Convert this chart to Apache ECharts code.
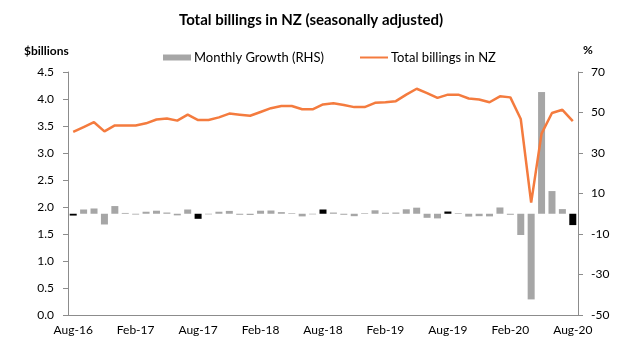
<!DOCTYPE html>
<html>
<head>
<meta charset="utf-8">
<style>
  html, body { margin: 0; padding: 0; background: #fff; }
  #chart { width: 622px; height: 353px; }
</style>
<script src="https://cdn.jsdelivr.net/npm/echarts@6/dist/echarts.min.js"></script>
</head>
<body>
<div id="chart"></div>
<script>
// Monthly, Aug-16 .. Aug-20
const months = [
  'Aug-16', 'Sep-16', 'Oct-16', 'Nov-16', 'Dec-16', 'Jan-17',
  'Feb-17', 'Mar-17', 'Apr-17', 'May-17', 'Jun-17', 'Jul-17',
  'Aug-17', 'Sep-17', 'Oct-17', 'Nov-17', 'Dec-17', 'Jan-18',
  'Feb-18', 'Mar-18', 'Apr-18', 'May-18', 'Jun-18', 'Jul-18',
  'Aug-18', 'Sep-18', 'Oct-18', 'Nov-18', 'Dec-18', 'Jan-19',
  'Feb-19', 'Mar-19', 'Apr-19', 'May-19', 'Jun-19', 'Jul-19',
  'Aug-19', 'Sep-19', 'Oct-19', 'Nov-19', 'Dec-19', 'Jan-20',
  'Feb-20', 'Mar-20', 'Apr-20', 'May-20', 'Jun-20', 'Jul-20',
  'Aug-20',
];

// $billions
const totalBillings = [
  3.39, 3.48, 3.57, 3.40, 3.51, 3.51, 3.51, 3.55, 3.62, 3.64, 3.60, 3.71,
  3.61, 3.61, 3.66, 3.73, 3.71, 3.69, 3.76, 3.83, 3.87, 3.87, 3.81, 3.81,
  3.90, 3.92, 3.89, 3.85, 3.85, 3.93, 3.94, 3.96, 4.08, 4.19, 4.11, 4.02,
  4.08, 4.08, 4.01, 3.99, 3.94, 4.05, 4.03, 3.63, 2.08, 3.36, 3.74, 3.80,
  3.59,
];

// % (RHS)
const monthlyGrowth = [
  -0.9, 2.1, 2.6, -5.3, 3.8, 0.4, -0.4, 1.0, 1.5, 0.6, -0.8, 2.1,
  -2.5, -0.3, 1.0, 1.4, -0.5, -0.6, 1.5, 1.6, 0.8, 0.3, -1.3, -0.3,
  2.1, 0.6, -0.5, -1.2, 0.3, 1.7, 0.5, 0.6, 2.2, 3.0, -2.0, -2.3,
  1.1, 0.3, -1.4, -1.2, -1.3, 3.1, -0.5, -10.5, -42.3, 60.1, 11.2, 2.3,
  -5.6,
];

const leftTicks = { min: 0, max: 4.5, interval: 0.5 };
const rightTicks = { min: -50, max: 70, interval: 20 };

const font = 'Lato, "Open Sans", sans-serif';
const axisGrey = '#8c8c8c';
const barGrey = '#a6a6a6';
const lineOrange = '#f47b3e';
const textColor = '#000';

const chart = echarts.init(document.getElementById('chart'));

chart.setOption({
  animation: false,
  backgroundColor: '#fff',
  textStyle: { fontFamily: font },
  title: {
    text: 'Total billings in NZ (seasonally adjusted)',
    left: 'center',
    top: 8,
    textStyle: { fontSize: 15, fontWeight: 'bold', color: textColor, fontFamily: font },
  },
  graphic: [
    {
      type: 'text',
      left: 24,
      top: 45,
      style: { text: '$billions', fontSize: 12, fontWeight: 'bold', fill: textColor, fontFamily: font },
    },
    {
      type: 'text',
      left: 583,
      top: 44,
      style: { text: '%', fontSize: 12, fontWeight: 'bold', fill: textColor, fontFamily: font },
    },
  ],
  legend: [
    {
      left: 158,
      top: 46,
      itemWidth: 28,
      itemHeight: 6,
      textStyle: { fontSize: 13, color: textColor, fontFamily: font, padding: [0, 0, 0, -2] },
      data: [{ name: 'Monthly Growth (RHS)', icon: 'rect', itemStyle: { color: barGrey } }],
    },
    {
      left: 355,
      top: 46,
      itemWidth: 28,
      itemHeight: 2,
      textStyle: { fontSize: 13, color: textColor, fontFamily: font, padding: [0, 0, 0, -2] },
      data: [{ name: 'Total billings in NZ', icon: 'rect', itemStyle: { color: lineOrange } }],
    },
  ],
  grid: { left: 68, right: 44, top: 72, bottom: 38 },
  xAxis: {
    type: 'category',
    data: months,
    boundaryGap: true,
    axisLine: { onZero: false, lineStyle: { color: axisGrey } },
    axisTick: { interval: 2, length: 4, lineStyle: { color: axisGrey } },
    axisLabel: { interval: 5, fontSize: 12, color: textColor, margin: 9 },
  },
  yAxis: [
    {
      type: 'value',
      ...leftTicks,
      position: 'left',
      splitLine: { show: false },
      axisLine: { show: true, lineStyle: { color: axisGrey } },
      axisTick: { show: true, length: 5, lineStyle: { color: axisGrey } },
      axisLabel: {
        fontSize: 12,
        color: textColor,
        margin: 14,
        formatter: (v) => v.toFixed(1),
      },
    },
    {
      type: 'value',
      ...rightTicks,
      position: 'right',
      splitLine: { show: false },
      axisLine: { show: true, lineStyle: { color: axisGrey } },
      axisTick: { show: true, length: 5, lineStyle: { color: axisGrey } },
      axisLabel: { fontSize: 12, color: textColor, margin: 13 },
    },
  ],
  series: [
    {
      name: 'Monthly Growth (RHS)',
      type: 'bar',
      yAxisIndex: 1,
      barWidth: 7,
      itemStyle: {
        // August bars are shown in black
        color: (p) => (p.dataIndex % 12 === 0 ? '#000000' : barGrey),
      },
      data: monthlyGrowth,
      z: 1,
    },
    {
      name: 'Total billings in NZ',
      type: 'line',
      yAxisIndex: 0,
      symbol: 'none',
      lineStyle: { color: lineOrange, width: 2.5 },
      itemStyle: { color: lineOrange },
      data: totalBillings,
      z: 2,
    },
  ],
});
</script>
</body>
</html>
